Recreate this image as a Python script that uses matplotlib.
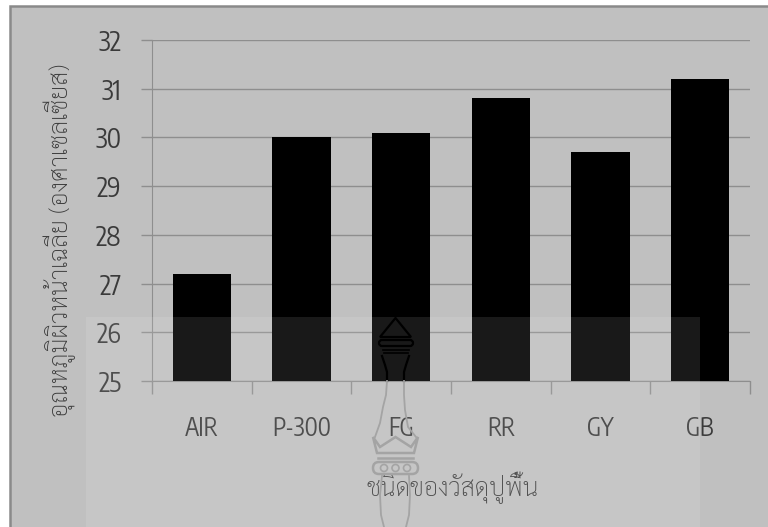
import matplotlib
matplotlib.use("Agg")
import matplotlib.pyplot as plt
from matplotlib.patches import Rectangle, Polygon, FancyBboxPatch, Circle

categories = ["AIR", "P-300", "FG", "RR", "GY", "GB"]
temperatures = [27.2, 30.0, 30.1, 30.8, 29.7, 31.2]
y_ticks = [25, 26, 27, 28, 29, 30, 31, 32]

xlabel_text = "ชนิดของวัสดุปูพื้น"
ylabel_text = "อุณหภูมิผิวหน้าเฉลี่ย (องศาเซลเซียส)"

W, H = 768, 527

plt.rcParams["font.family"] = ["Encode Sans Condensed", "Lato", "DejaVu Sans"]
thai_family = ["Sarabun", "Noto Sans Thai", "DejaVu Sans"]
text_color = "#3a3a3a"
grid_color = "#8e8e8e"

fig = plt.figure(figsize=(W / 100, H / 100), dpi=100, facecolor="white")


def box(x0, y0, x1, y1):
    return [x0 / W, 1 - y1 / H, (x1 - x0) / W, (y1 - y0) / H]


# grey page with its frame, open past the right and bottom edges
fig.add_artist(Rectangle((10 / W, -0.1), 1, 1 - 6 / H + 0.1, transform=fig.transFigure,
                         facecolor="#c0c0c0", edgecolor="#8a8a8a", lw=1.8, zorder=-1))

ax = fig.add_axes(box(152, 40, 750, 381))
ax.patch.set_alpha(0)
positions = list(range(len(categories)))
ax.bar(positions, temperatures, width=0.585, color="black", zorder=3)
ax.set_xlim(-0.5, 5.5)
ax.set_ylim(25, 32)
ax.set_yticks(y_ticks)
ax.yaxis.grid(True, color=grid_color, lw=1.0, zorder=1)
ax.set_axisbelow(True)
ax.set_xticks([p - 0.5 for p in positions] + [5.5])
ax.set_xticklabels([])
ax.set_xticks(positions, labels=categories, minor=True)
ax.tick_params(axis="x", which="major", length=9, color=grid_color, width=1.0)
ax.tick_params(axis="x", which="minor", length=0, pad=25, labelsize=17.5, labelcolor=text_color)
ax.tick_params(axis="y", length=8, color=grid_color, width=1.0, pad=14, labelsize=19, labelcolor=text_color)
for name in ("top", "right"):
    ax.spines[name].set_visible(False)
for name in ("left", "bottom"):
    ax.spines[name].set_color(grid_color)

fig.text(453 / W, 1 - 488 / H, xlabel_text, family=thai_family, fontsize=18, fontweight="light",
         color=text_color, ha="center", va="center")
fig.text(60 / W, 1 - 240 / H, ylabel_text, family=thai_family, fontsize=18, fontweight="light",
         color=text_color, rotation=90, ha="center", va="center")

# pale sheet and emblem laid across the lower part of the page
overlay = fig.add_axes([0, 0, 1, 1], zorder=10)
overlay.set_xlim(0, W)
overlay.set_ylim(H, 0)
overlay.axis("off")
overlay.add_patch(Rectangle((86, 317), 614, 215, facecolor="white", alpha=0.1, edgecolor="none"))

dark = "#000000"
faint = "#a4a4a4"

# upper part of the emblem, dark against the bar
overlay.add_patch(Polygon([(395.5, 318), (380, 337), (411, 337)], closed=True, fill=False, ec=dark, lw=1.6))
overlay.add_patch(FancyBboxPatch((379, 340), 34, 6, boxstyle="round,pad=0,rounding_size=3",
                                 fill=False, ec=dark, lw=1.6))
for y, half in ((350, 13), (353, 12)):
    overlay.plot([395.5 - half, 395.5 + half], [y, y], color=dark, lw=1.2)
overlay.plot([382, 385, 387, 387], [356, 365, 372, 381], color=dark, lw=1.6)
overlay.plot([409, 406, 404, 404], [356, 365, 372, 381], color=dark, lw=1.6)

# lower part, faint on the sheet
overlay.plot([387, 386, 383, 380, 375], [381, 395, 407, 423, 437], color=faint, lw=1.3)
overlay.plot([404, 404, 405, 408, 416], [381, 395, 410, 427, 437], color=faint, lw=1.3)
overlay.add_patch(Polygon([(373, 437), (380, 447), (395.5, 437), (411, 447), (418, 437), (414, 453), (377, 453)],
                          closed=True, fill=False, ec=faint, lw=1.8))
overlay.plot([378, 413], [458, 458], color=faint, lw=1.8)
overlay.add_patch(FancyBboxPatch((373, 462), 45, 12, boxstyle="round,pad=0,rounding_size=6",
                                 fill=False, ec=faint, lw=1.8))
for cx in (384, 395.5, 407):
    overlay.add_patch(Circle((cx, 468), 3.5, fill=False, ec=faint, lw=1.2))
overlay.plot([382, 380, 381, 384], [476, 495, 515, 527], color=faint, lw=1.3)
overlay.plot([409, 410, 409, 406], [476, 495, 515, 527], color=faint, lw=1.3)

fig.savefig("out.png", dpi=100)
